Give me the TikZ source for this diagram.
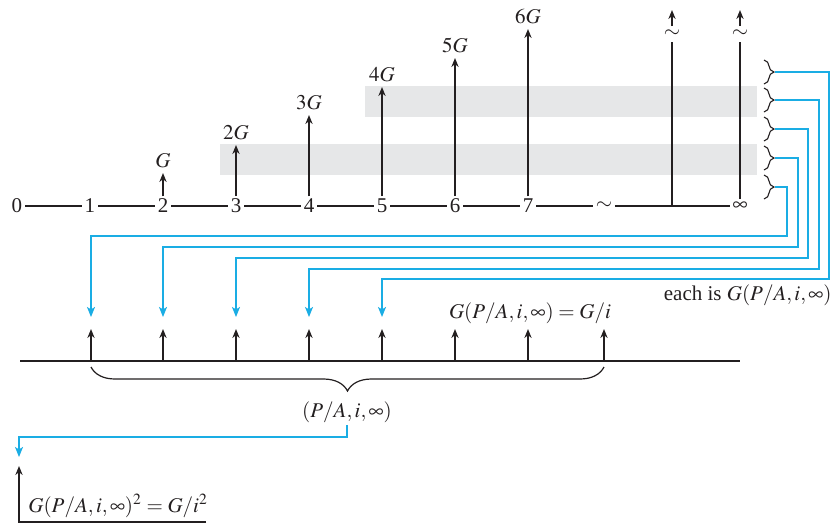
\documentclass[tikz,border=0pt]{standalone}
\usepackage{mathptmx}
\usepackage{fontspec}
\setmainfont{Liberation Serif}
\usepackage{tikz}
\usetikzlibrary{arrows.meta, positioning, decorations.pathreplacing}
\definecolor{bandGray}{HTML}{E6E7E8}
\definecolor{linkBlue}{HTML}{1AADE4}
\definecolor{inkBlack}{HTML}{231F20}

\begin{document}
\begin{tikzpicture}[
    x=0.5pt, y=-0.5pt,
    font=\fontsize{10.5}{12.5}\selectfont,
    tickno/.style={inner sep=1.2pt, text=inkBlack},
    lbl/.style={inner sep=1pt, text=inkBlack},
    tline/.style={draw=inkBlack, line width=0.6pt},
    arrow/.style={-{Stealth[length=4.5pt, width=3.6pt]}, line width=0.6pt, draw=inkBlack},
    link/.style={-{Stealth[length=5pt, width=4pt, inset=1.2pt]}, line width=0.7pt, draw=linkBlue},
    rbrace/.style={decorate, decoration={brace, amplitude=5pt}, line width=0.55pt, draw=inkBlack},
]
\useasboundingbox (0,0) rectangle (837,527);

% ── Shaded bands ──
\fill[bandGray] (220,144) rectangle (757,175);
\fill[bandGray] (365,86) rectangle (757,117);

% ── Time line ──
\node[tickno] (t0) at (17,206) {0};
\node[tickno] (t1) at (90,206) {1};
\node[tickno] (t2) at (163,206) {2};
\node[tickno] (t3) at (236,206) {3};
\node[tickno] (t4) at (309,206) {4};
\node[tickno] (t5) at (382,206) {5};
\node[tickno] (t6) at (455,206) {6};
\node[tickno] (t7) at (528,206) {7};
\node[tickno] (tw) at (604,206) {$\sim$};
\coordinate (tj) at (672,206);
\node[tickno] (ti) at (740,206) {$\infty$};
\draw[tline] (t0) -- (t1) -- (t2) -- (t3) -- (t4) -- (t5) -- (t6) -- (t7) -- (tw) -- (tj) -- (ti);

% ── Gradient cash flows ──
\coordinate (a2) at (163,173);
\coordinate (a3) at (236,145);
\coordinate (a4) at (309,115);
\coordinate (a5) at (382,87);
\coordinate (a6) at (455,58);
\coordinate (a7) at (528,29);
\draw[arrow] (t2) -- (a2);
\draw[arrow] (t3) -- (a3);
\draw[arrow] (t4) -- (a4);
\draw[arrow] (t5) -- (a5);
\draw[arrow] (t6) -- (a6);
\draw[arrow] (t7) -- (a7);
\node[lbl, above=1.5pt of a2] (g2) {$G$};
\node[lbl, above=1.5pt of a3] (g3) {$2G$};
\node[lbl, above=1.5pt of a4] (g4) {$3G$};
\node[lbl, above=1.5pt of a5] (g5) {$4G$};
\node[lbl, above=1.5pt of a6] (g6) {$5G$};
\node[lbl, above=1.5pt of a7] (g7) {$6G$};

% ── Unbounded flows ──
\coordinate (u1) at (672,42);
\coordinate (u1s) at (672,26);
\coordinate (u1t) at (672,10);
\node[lbl] (w1) at (672,34) {$\sim$};
\draw[tline] (tj) -- (u1);
\draw[arrow] (u1s) -- (u1t);
\coordinate (u2) at (740,42);
\coordinate (u2s) at (740,26);
\coordinate (u2t) at (740,10);
\node[lbl] (w2) at (740,34) {$\sim$};
\draw[tline] (ti) -- (u2);
\draw[arrow] (u2s) -- (u2t);

% ── Braces and links ──
\foreach \i/\y in {1/72,2/100,3/129,4/158,5/187} {
  \draw[rbrace] (764,\y-12) -- (764,\y+12);
  \coordinate (r\i) at (775,\y);
}
\foreach \i/\xr/\yh/\xd in {1/829/279/382, 2/819/269/309, 3/808/258/236, 4/798/247/163, 5/787/236/91} {
  \coordinate (k\i) at (\xr,\yh);
  \coordinate (d\i) at (\xd,317);
  \draw[link] (r\i) -| (k\i) -| (d\i);
}
\node[lbl, anchor=east] (each) at (834,295) {each is $G(P/A,i,\infty)$};

% ── Perpetuity line ──
\coordinate (bl) at (20,361);
\coordinate (br) at (740,361);
\draw[tline] (bl) -- (br);
\foreach \n/\x in {1/91,2/163,3/236,4/309,5/382,6/455,7/528,8/604} {
  \coordinate (p\n) at (\x,361);
  \coordinate (q\n) at (\x,329);
  \draw[arrow] (p\n) -- (q\n);
}
\node[lbl] (lgi) at (530,313) {$G(P/A,i,\infty) = G/i$};
\draw[tline, decorate, decoration={brace, amplitude=12pt, mirror}] (91,367) -- (604,367);
\node[lbl] (pa) at (347,412) {$(P/A,i,\infty)$};

% ── Present worth ──
\coordinate (s1) at (19,437);
\coordinate (s2) at (19,457);
\draw[link] (pa.south) |- (s1) -- (s2);
\coordinate (m0) at (19,522);
\coordinate (m1) at (19,466);
\coordinate (m2) at (206,522);
\draw[arrow] (m2) -- (m0) -- (m1);
\node[lbl, anchor=west] (lsq) at (26,506) {$G(P/A,i,\infty)^2 = G/i^2$};

\end{tikzpicture}
\end{document}
